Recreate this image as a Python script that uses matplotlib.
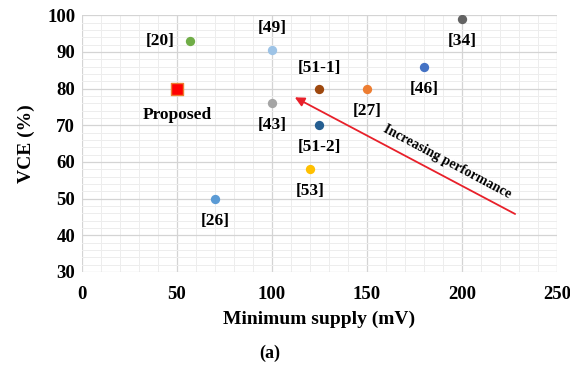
import numpy as np
import matplotlib.pyplot as plt
from matplotlib.ticker import MultipleLocator

plt.rcParams['font.family'] = ['Liberation Serif', 'DejaVu Serif']
plt.rcParams['font.weight'] = 'bold'

# data
refs = ['[20]', '[49]', '[43]', '[51-1]', '[27]', '[46]', '[34]', '[51-2]', '[53]', '[26]']
supply = [57, 100, 100, 125, 150, 180, 200, 125, 120, 70]
vce = [93, 90.5, 76, 80, 80, 86, 99, 70, 58, 50]
colors = ['#70AD47', '#9DC3E6', '#A5A5A5', '#9E480E', '#ED7D31', '#4472C4',
          '#636363', '#255E91', '#FFC000', '#5B9BD5']
# label offsets in points (dx, dy)
offsets = [(-22, 0), (0, 16), (0, -16), (0, 15), (0, -16), (0, -16),
           (0, -16), (0, -16), (0, -16), (0, -16)]
prop_x, prop_y = 50, 80

fig = plt.figure(figsize=(5.7, 3.7), dpi=100)
ax = fig.add_axes([0.144, 0.265, 0.833, 0.694])

ax.set_xlim(0, 250)
ax.set_ylim(30, 100)
ax.xaxis.set_major_locator(MultipleLocator(50))
ax.xaxis.set_minor_locator(MultipleLocator(10))
ax.yaxis.set_major_locator(MultipleLocator(10))
ax.yaxis.set_minor_locator(MultipleLocator(2))
ax.grid(which='major', color='#d4d4d4', lw=0.9)
ax.grid(which='minor', color='#ededed', lw=0.7)
ax.set_axisbelow(True)
for s in ax.spines.values():
    s.set_visible(False)
ax.tick_params(which='both', length=0, labelsize=13.5)
ax.tick_params(axis='x', pad=10)
ax.tick_params(axis='y', pad=5)
for lab in ax.get_xticklabels() + ax.get_yticklabels():
    lab.set_fontweight('bold')

for r, x, y, c, (dx, dy) in zip(refs, supply, vce, colors, offsets):
    ax.scatter(x, y, s=45, color=c, zorder=3, linewidths=0)
    ax.annotate(r, (x, y), xytext=(dx, dy), textcoords='offset points',
                ha='center', va='center', fontsize=12.5, fontweight='bold')

ax.scatter(prop_x, prop_y, s=65, marker='s', color='#FF0000',
           edgecolors='#ED7D31', linewidths=1, zorder=4)
ax.annotate('Proposed', (prop_x, prop_y), xytext=(0, -19), textcoords='offset points',
            ha='center', va='center', fontsize=12.5, fontweight='bold')

ax.annotate('', xy=(112, 77.6), xytext=(228, 45.8),
            arrowprops=dict(arrowstyle='-|>', color='#E8202A', lw=1.3,
                            mutation_scale=14, shrinkA=0, shrinkB=0))
ax.text(192, 60, 'Increasing performance', rotation=-28, ha='center', va='center',
        fontsize=10, fontweight='bold', rotation_mode='anchor')

ax.set_xlabel('Minimum supply (mV)', fontsize=14, fontweight='bold', labelpad=6)
ax.set_ylabel('VCE (%)', fontsize=14, fontweight='bold', labelpad=9)
fig.text(0.474, 0.045, '(a)', ha='center', va='center', fontsize=13, fontweight='bold')

fig.savefig('out.png', dpi=100)
